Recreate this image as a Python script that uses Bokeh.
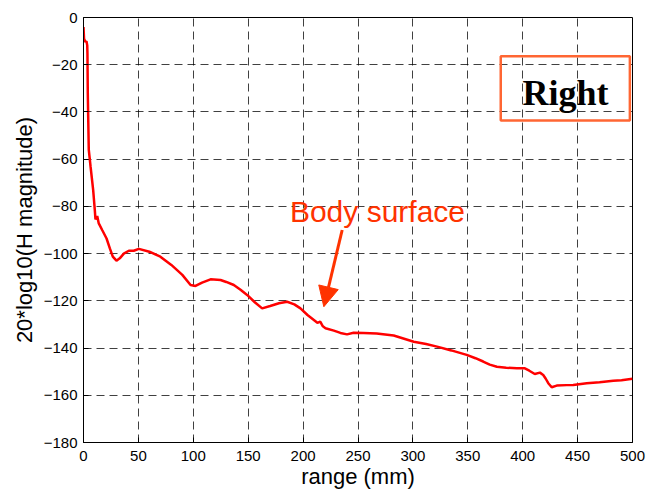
from bokeh.plotting import figure
from bokeh.models import Range1d, FixedTicker, Label, Arrow, NormalHead, BoxAnnotation
from bokeh.embed import file_html
from bokeh.resources import INLINE

# curve data
range_mm = [0, 0.5, 1.8, 2.7, 3.4, 3.6, 3.9, 4.8, 6.4, 8.8, 10.3, 10.9, 12.5, 13.9, 17, 21, 24,
            26.7, 30, 33, 36.7, 41.3, 45.8, 50.4, 60, 70, 80, 90, 97.5, 102, 108, 115.7, 124.8,
            130, 136.9, 143, 149, 156, 162.7, 170, 178, 185.5, 192, 197.6, 204, 209.8, 213,
            215.6, 218, 220.4, 228, 234, 240, 246, 255, 267, 282.5, 300.8, 312, 322, 335,
            349, 357, 364, 370, 376.5, 385, 394.7, 402, 406, 411, 415.7, 418.7, 421, 423.3,
            426.4, 431, 440, 446, 458.3, 470, 482.5, 490, 500]
h_db = [-4, -9, -10.4, -10, -11.8, -15.4, -32, -56, -63, -73, -81.6, -85.5, -84.1, -87.2, -90,
        -93.6, -97.8, -101.3, -103, -102, -100, -98.8, -98.8, -98, -99.2, -101.3, -104.8,
        -109, -113.3, -113.7, -112.3, -110.9, -111.2, -112, -113.3, -115.3, -117.5, -120.6,
        -123.2, -122.2, -121, -120.4, -121.5, -123.2, -126, -128.1, -129.3, -128.8, -130.8,
        -131.6, -132.6, -133.6, -134.2, -133.5, -133.6, -133.8, -134.7, -137.3, -138.3,
        -139.4, -141, -142.9, -144.3, -145.7, -147, -147.9, -148.3, -148.6, -148.6, -149.6,
        -151, -150.4, -151.4, -153, -154.9, -156.6, -155.9, -155.7, -155.6, -154.9, -154.5,
        -153.8, -153.6, -153]

x_ticks = [0, 50, 100, 150, 200, 250, 300, 350, 400, 450, 500]
y_ticks = [-180, -160, -140, -120, -100, -80, -60, -40, -20, 0]

p = figure(width=647, height=493, output_backend="svg", toolbar_location=None,
           x_range=Range1d(0, 500), y_range=Range1d(-180, 0),
           min_border_left=83, min_border_right=15, min_border_top=17, min_border_bottom=51)

p.line(range_mm, h_db, line_color="#FF0000", line_width=2.5)

for ax in (p.xaxis[0], p.yaxis[0]):
    ax.major_tick_in = 5
    ax.major_tick_out = 0
    ax.minor_tick_line_color = None
    ax.major_label_text_font = "Liberation Sans"
    ax.major_label_text_font_size = "15px"
    ax.major_label_text_color = "black"
    ax.axis_label_text_font = "Liberation Sans"
    ax.axis_label_text_font_size = "22px"
    ax.axis_label_text_font_style = "normal"
    ax.axis_label_text_color = "black"
    ax.axis_line_color = "black"
    ax.major_tick_line_color = "black"

p.xaxis.ticker = FixedTicker(ticks=x_ticks)
p.yaxis.ticker = FixedTicker(ticks=y_ticks)
p.xaxis.axis_label = "range (mm)"
p.yaxis.axis_label = "20*log10(H magnitude)"
p.xaxis.major_label_standoff = 8
p.xaxis.axis_label_standoff = 0
p.yaxis.major_label_standoff = 6
p.yaxis.axis_label_standoff = 4

for g in (p.xgrid[0], p.ygrid[0]):
    g.grid_line_color = "black"
    g.grid_line_alpha = 0.75
    g.grid_line_dash = "8 5"
    g.grid_line_width = 1

p.outline_line_color = "black"
p.outline_line_alpha = 1
p.outline_line_width = 1
p.background_fill_color = "white"

# "Right" box
box = BoxAnnotation(left=380, right=497.6, top=-16.4, bottom=-43.6,
                    fill_alpha=0, line_color="#FF6633", line_alpha=1, line_width=2.5)
p.add_layout(box)
p.add_layout(Label(x=439, y=-31.8, text="Right", text_font="Liberation Serif",
                   text_font_style="bold", text_font_size="36px", text_color="black",
                   text_align="center", text_baseline="alphabetic"))

# Body surface annotation
p.add_layout(Label(x=188, y=-82, text="Body surface", text_font="Liberation Sans",
                   text_font_size="30px", text_color="#FF3300",
                   text_align="left", text_baseline="alphabetic"))
p.add_layout(Arrow(x_start=235.6, y_start=-90, x_end=218.9, y_end=-122.5,
                   line_color="#FF3300", line_width=3,
                   end=NormalHead(size=20, fill_color="#FF3300", line_color="#FF3300")))

open("out.html", "w").write(file_html(p, INLINE))
